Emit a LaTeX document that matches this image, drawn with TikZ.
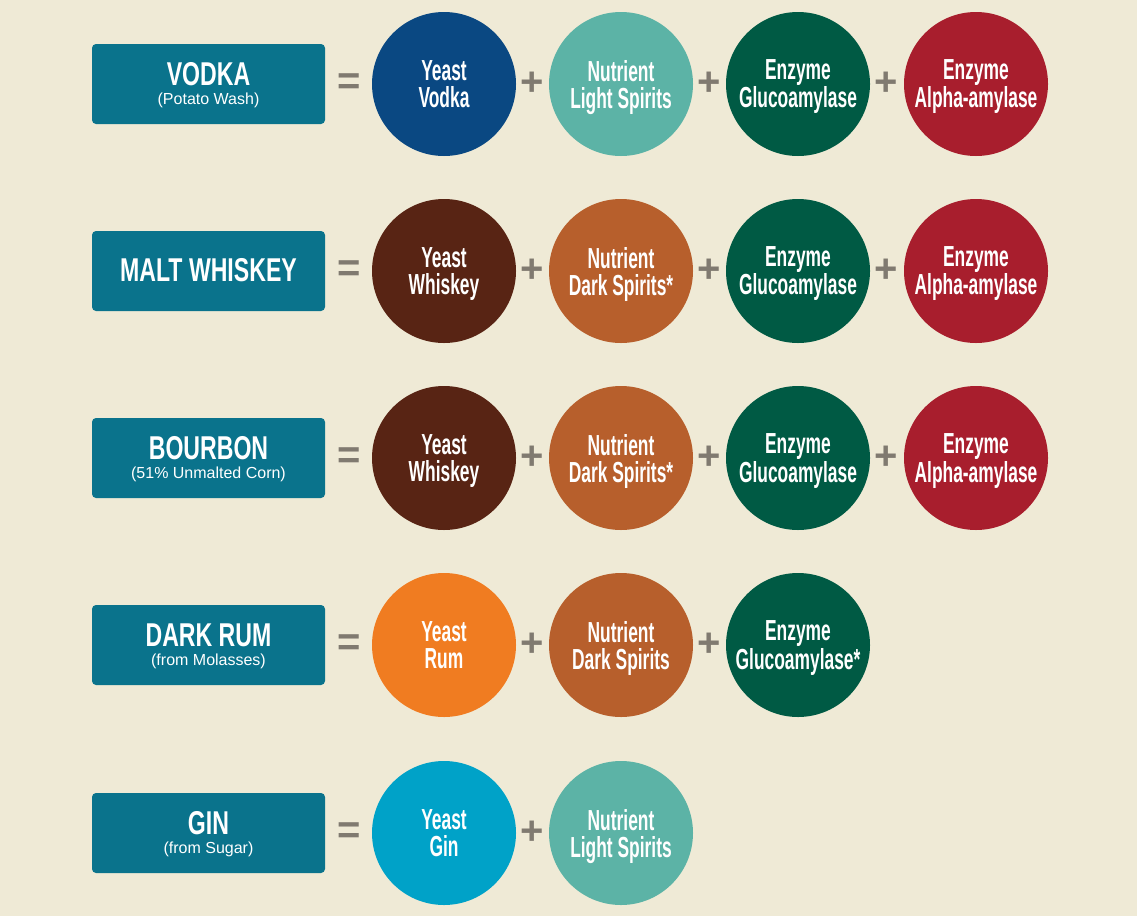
\documentclass[tikz,border=0pt]{standalone}
\usepackage{fontspec}
\setmainfont{Liberation Sans}
\newfontfamily\condfont[FakeStretch=0.6]{Liberation Sans Bold}
\newfontfamily\titlefont[FakeStretch=0.7]{Liberation Sans Bold}
\newfontfamily\signfont{Liberation Sans Bold}

\begin{document}
\begin{tikzpicture}[x=1pt,y=-1pt,
	drinkbox/.style={fill=boxteal,rounded corners=4pt,minimum width=233pt,minimum height=80pt,inner sep=0pt},
	drinkname/.style={text=white,inner sep=0pt,font=\titlefont\fontsize{33}{33}\selectfont},
	drinknote/.style={text=white,inner sep=0pt,font=\fontsize{16}{16}\selectfont},
	part/.style={circle,minimum size=144pt,inner sep=0pt,text=white,align=center,text depth=0pt,font=\condfont\fontsize{29}{27}\selectfont},
	sign/.style={text=signgray,inner sep=0pt,font=\signfont\fontsize{40}{40}\selectfont}]
	\definecolor{paper}{RGB}{239,234,214}
	\definecolor{boxteal}{RGB}{10,115,140}
	\definecolor{signgray}{RGB}{128,122,112}
	\definecolor{vodkablue}{RGB}{10,72,130}
	\definecolor{lightteal}{RGB}{92,179,166}
	\definecolor{enzymegreen}{RGB}{0,90,68}
	\definecolor{enzymered}{RGB}{168,30,45}
	\definecolor{whiskeybrown}{RGB}{88,36,20}
	\definecolor{darkorange}{RGB}{183,95,44}
	\definecolor{rumorange}{RGB}{240,124,33}
	\definecolor{ginblue}{RGB}{0,162,200}

	\fill[paper] (0,0) rectangle (1137,916);

	% vodka
	\node[drinkbox] (vodka) at (208.5,84) {};
	\node[drinkname] (vodkaname) at (208.5,74) {VODKA};
	\node[drinknote] (vodkanote) at (208.5,100) {(Potato Wash)};
	\node[sign] (vodkaeq) at (349,84) {=};
	\node[part,fill=vodkablue] (vodkayeast) at (444,84) {Yeast\\Vodka};
	\node[sign] (vodkaplusa) at (532,84) {+};
	\node[part,fill=lightteal] (vodkanutrient) at (621,84) {Nutrient\\Light Spirits};
	\node[sign] (vodkaplusb) at (709,84) {+};
	\node[part,fill=enzymegreen] (vodkagluco) at (798,84) {Enzyme\\Glucoamylase};
	\node[sign] (vodkaplusc) at (886,84) {+};
	\node[part,fill=enzymered] (vodkaalpha) at (976,84) {Enzyme\\Alpha-amylase};

	% malt whiskey
	\node[drinkbox] (malt) at (208.5,271) {};
	\node[drinkname] (maltname) at (208.5,270) {MALT WHISKEY};
	\node[sign] (malteq) at (349,271) {=};
	\node[part,fill=whiskeybrown] (maltyeast) at (444,271) {Yeast\\Whiskey};
	\node[sign] (maltplusa) at (532,271) {+};
	\node[part,fill=darkorange] (maltnutrient) at (621,271) {Nutrient\\Dark Spirits*};
	\node[sign] (maltplusb) at (709,271) {+};
	\node[part,fill=enzymegreen] (maltgluco) at (798,271) {Enzyme\\Glucoamylase};
	\node[sign] (maltplusc) at (886,271) {+};
	\node[part,fill=enzymered] (maltalpha) at (976,271) {Enzyme\\Alpha-amylase};

	% bourbon
	\node[drinkbox] (bourbon) at (208.5,458) {};
	\node[drinkname] (bourbonname) at (208.5,448) {BOURBON};
	\node[drinknote] (bourbonnote) at (208.5,474) {(51\% Unmalted Corn)};
	\node[sign] (bourboneq) at (349,458) {=};
	\node[part,fill=whiskeybrown] (bourbonyeast) at (444,458) {Yeast\\Whiskey};
	\node[sign] (bourbonplusa) at (532,458) {+};
	\node[part,fill=darkorange] (bourbonnutrient) at (621,458) {Nutrient\\Dark Spirits*};
	\node[sign] (bourbonplusb) at (709,458) {+};
	\node[part,fill=enzymegreen] (bourbongluco) at (798,458) {Enzyme\\Glucoamylase};
	\node[sign] (bourbonplusc) at (886,458) {+};
	\node[part,fill=enzymered] (bourbonalpha) at (976,458) {Enzyme\\Alpha-amylase};

	% dark rum
	\node[drinkbox] (rum) at (208.5,645) {};
	\node[drinkname] (rumname) at (208.5,635) {DARK RUM};
	\node[drinknote] (rumnote) at (208.5,661) {(from Molasses)};
	\node[sign] (rumeq) at (349,645) {=};
	\node[part,fill=rumorange] (rumyeast) at (444,645) {Yeast\\Rum};
	\node[sign] (rumplusa) at (532,645) {+};
	\node[part,fill=darkorange] (rumnutrient) at (621,645) {Nutrient\\Dark Spirits};
	\node[sign] (rumplusb) at (709,645) {+};
	\node[part,fill=enzymegreen] (rumgluco) at (798,645) {Enzyme\\Glucoamylase*};

	% gin
	\node[drinkbox] (gin) at (208.5,833) {};
	\node[drinkname] (ginname) at (208.5,823) {GIN};
	\node[drinknote] (ginnote) at (208.5,849) {(from Sugar)};
	\node[sign] (gineq) at (349,833) {=};
	\node[part,fill=ginblue] (ginyeast) at (444,833) {Yeast\\Gin};
	\node[sign] (ginplusa) at (532,833) {+};
	\node[part,fill=lightteal] (ginnutrient) at (621,833) {Nutrient\\Light Spirits};
\end{tikzpicture}
\end{document}
